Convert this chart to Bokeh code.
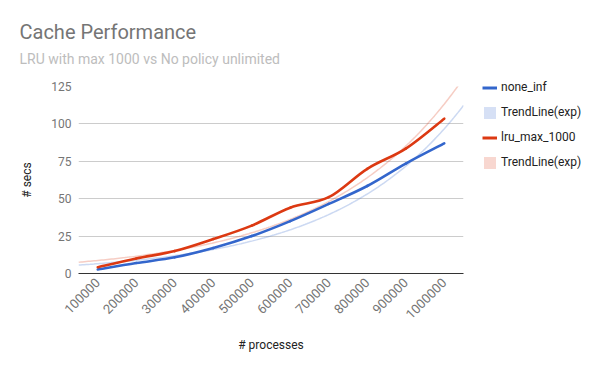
import math
import numpy as np
from bokeh.plotting import figure
from bokeh.models import Range1d, FixedTicker, Legend, LegendItem, Title
from bokeh.embed import file_html
from bokeh.resources import INLINE

# ---------------- data ----------------
x_values = [100000, 200000, 300000, 400000, 500000, 600000, 700000, 800000, 900000, 1000000]
x_tick_labels = ["100000", "200000", "300000", "400000", "500000",
                 "600000", "700000", "800000", "900000", "1000000"]
y_ticks = [0, 25, 50, 75, 100, 125]
none_inf = [2.7, 7.0, 10.8, 17.0, 25.0, 35.0, 46.5, 58.5, 73.5, 87.0]
lru_max_1000 = [4.2, 10.0, 15.0, 23.0, 32.0, 44.0, 51.0, 70.0, 83.5, 103.5]
# exponential trend lines y = a * exp(b * x), coefficients
trend_none_inf = [4.854, 2.992e-6]
trend_lru_max_1000 = [6.545, 2.851e-6]

FONT = "Roboto"
BLUE = "#3366cc"
RED = "#dc3912"

p = figure(frame_width=385, frame_height=187, output_backend="svg", toolbar_location=None,
           x_range=Range1d(50000, 1050000), y_range=Range1d(0, 125),
           min_border_left=78, min_border_right=137, min_border_top=86, min_border_bottom=98)
p.outline_line_color = None
p.background_fill_color = "white"
p.border_fill_color = "white"

# title (outermost) and subtitle (closest to the plot)
p.title.text = "Cache Performance"
p.title.text_font = FONT
p.title.text_font_size = "20px"
p.title.text_font_style = "normal"
p.title.text_color = "#757575"
p.title.align = "left"
p.title.offset = -59
p.title.standoff = -29
p.add_layout(Title(text="LRU with max 1000 vs No policy unlimited", text_font=FONT,
                   text_font_size="14px", text_font_style="normal", text_color="#bdbdbd",
                   align="left", offset=-59, standoff=39), "above")

# axes
p.xaxis.ticker = FixedTicker(ticks=x_values)
p.xaxis.major_label_overrides = {v: s for v, s in zip(x_values, x_tick_labels)}
p.xaxis.major_label_orientation = math.pi / 4
p.xaxis.major_label_text_font = FONT
p.xaxis.major_label_text_font_size = "13px"
p.xaxis.major_label_text_color = "#757575"
p.xaxis.major_tick_line_color = None
p.xaxis.minor_tick_line_color = None
p.xaxis.major_tick_out = 0
p.xaxis.major_tick_in = 0
p.xaxis.major_label_standoff = 7
p.xaxis.axis_line_color = "#333333"
p.xaxis.axis_label = "# processes"
p.xaxis.axis_label_text_font = FONT
p.xaxis.axis_label_text_font_size = "12px"
p.xaxis.axis_label_text_font_style = "normal"
p.xaxis.axis_label_text_color = "#222222"
p.xaxis.axis_label_standoff = 12

p.yaxis.ticker = FixedTicker(ticks=y_ticks)
p.yaxis.major_label_text_font = FONT
p.yaxis.major_label_text_font_size = "12px"
p.yaxis.major_label_text_color = "#757575"
p.yaxis.major_tick_line_color = None
p.yaxis.minor_tick_line_color = None
p.yaxis.major_tick_out = 0
p.yaxis.major_tick_in = 0
p.yaxis.major_label_standoff = 7
p.yaxis.axis_line_color = None
p.yaxis.axis_label = "# secs"
p.yaxis.axis_label_text_font = FONT
p.yaxis.axis_label_text_font_size = "12px"
p.yaxis.axis_label_text_font_style = "normal"
p.yaxis.axis_label_text_color = "#222222"
p.yaxis.axis_label_standoff = 14

p.xgrid.visible = False
p.ygrid.ticker = FixedTicker(ticks=y_ticks)
p.ygrid.grid_line_color = "#cccccc"

# trend lines
tx = np.linspace(50000, 1050000, 200)
for (a, b), col in ((trend_none_inf, BLUE), (trend_lru_max_1000, RED)):
    p.line(tx, a * np.exp(b * tx), line_color=col, line_alpha=0.25, line_width=1.5)


# smooth data lines (cardinal spline through the data points)
def smooth(xs, ys, color):
    xs = np.asarray(xs, float)
    ys = np.asarray(ys, float)
    n = len(xs)
    i = np.arange(n - 1)
    im = np.clip(i - 1, 0, n - 1)
    ip2 = np.clip(i + 2, 0, n - 1)
    cx0 = xs[i] + (xs[i + 1] - xs[im]) / 6
    cy0 = ys[i] + (ys[i + 1] - ys[im]) / 6
    cx1 = xs[i + 1] - (xs[ip2] - xs[i]) / 6
    cy1 = ys[i + 1] - (ys[ip2] - ys[i]) / 6
    p.bezier(x0=xs[i], y0=ys[i], x1=xs[i + 1], y1=ys[i + 1],
             cx0=cx0, cy0=cy0, cx1=cx1, cy1=cy1,
             line_color=color, line_width=2.6, line_cap="round")


smooth(x_values, none_inf, BLUE)
smooth(x_values, lru_max_1000, RED)

# legend swatches (renderers with no visible data, used only by the legend)
nan = [float("nan")]
sw_blue = p.line(x=nan, y=nan, line_color=BLUE, line_width=3)
sw_blue_t = p.quad(left=nan, right=nan, top=nan, bottom=nan, fill_color=BLUE, fill_alpha=0.2, line_color=None)
sw_red = p.line(x=nan, y=nan, line_color=RED, line_width=3)
sw_red_t = p.quad(left=nan, right=nan, top=nan, bottom=nan, fill_color=RED, fill_alpha=0.2, line_color=None)

legend = Legend(items=[
    LegendItem(label="none_inf", renderers=[sw_blue]),
    LegendItem(label="TrendLine(exp)", renderers=[sw_blue_t]),
    LegendItem(label="lru_max_1000", renderers=[sw_red]),
    LegendItem(label="TrendLine(exp)", renderers=[sw_red_t]),
], location=(19, 103.5), orientation="vertical", glyph_width=15, glyph_height=15,
    label_height=15, spacing=10, padding=0, margin=0, border_line_color=None,
    background_fill_alpha=0, label_text_font=FONT, label_text_font_size="12px",
    label_text_color="#222222", label_standoff=4)
p.add_layout(legend, "right")

open("out.html", "w").write(file_html(p, INLINE))
